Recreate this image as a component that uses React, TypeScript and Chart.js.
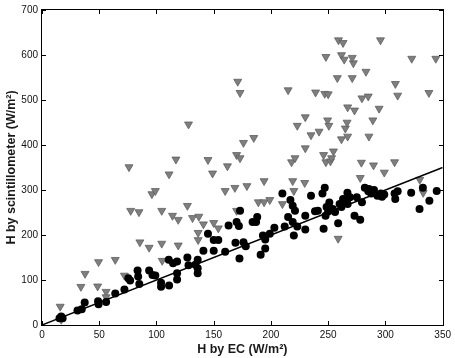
import React, { useEffect, useRef } from "react";
import { Chart, registerables } from "chart.js";

Chart.register(...registerables);

// Sensible heat flux from eddy covariance (x) vs. scintillometer (y), W/m²
const circleEC = [
  16.8, 18, 15.3, 31, 34.7, 37.3, 49, 49.4, 56, 64, 72, 75.4, 77, 83.5, 84, 85,
  93.6, 96.5, 99, 104, 104, 111, 110.7, 114.5, 118, 118, 118, 127, 128, 134, 136,
  136, 136, 141, 145, 150, 150, 154, 160, 163, 169, 170, 172, 173, 172.5, 176, 178,
  184, 188, 187, 191, 193, 195, 195, 199, 203, 210, 212, 215, 217, 219, 219, 220,
  221, 223, 230, 230, 235, 238.5, 241, 245, 246, 247, 247.7, 248.6, 250, 251, 254,
  256, 258.7, 260, 261.6, 263, 265, 266.8, 267, 269, 273, 275, 278, 279.5, 282, 285,
  285.6, 287.6, 290, 293, 296, 297, 299, 308, 308.6, 310.7, 322.5, 329.8, 332.7,
  338.4, 344.8,
];
const circleScint = [
  19, 15, 15, 32, 35, 50, 53, 46, 51, 70, 79, 104, 99, 121, 108, 91,
  121, 111, 110, 94, 85, 88, 145, 137, 141, 115, 101, 150, 133, 134, 145,
  115, 126, 165, 203, 189, 165, 189, 163, 221, 183, 229, 220, 254, 148, 184, 175,
  229, 240, 229, 156, 199, 170, 190, 203, 216, 292, 219, 240, 278, 265, 229, 199,
  254, 219, 212, 243, 287, 253, 254, 292, 214, 305, 243, 262, 252, 272, 258,
  251, 226, 269, 262, 280, 276, 294, 269, 284, 243, 284, 234, 273, 305, 297,
  302, 292, 300, 287, 292, 285, 290, 292, 280, 297, 294, 258, 305,
  276, 298,
];

const triEC = [
  15.9, 16.8, 34, 37.6, 48.6, 49.4, 56, 56, 64, 72, 76, 77.5, 84.7, 85.5, 93.6, 96,
  99, 104.6, 104.6, 105, 111, 114, 117, 119, 119, 127, 128, 131.5, 137, 136.4, 136.4,
  141, 145, 149, 150, 154, 160, 162, 168.5, 170, 171, 173, 173, 170, 176, 179, 185,
  189, 194, 194, 199, 210, 215, 218, 219, 220, 221, 223, 229.5, 230, 230, 235, 239,
  242, 246, 247, 248, 248, 250, 249.5, 250.6, 252, 253, 254.6, 258, 259, 258.7,
  261.6, 261.6, 263, 264, 265, 266.5, 267, 267, 271, 272, 273, 271, 278, 279, 279.5,
  283, 285, 285.6, 289, 289.6, 294.5, 295.7, 299, 308, 308.7, 310.7, 323, 330, 338,
  344, 333,
];
const triScint = [
  41, 12, 85, 114, 86, 140, 74, 62, 145, 110, 351, 254, 251, 184, 172, 291,
  298, 254, 181, 143, 335, 243, 368, 234, 177, 265, 446, 238, 241, 205, 189,
  224, 367, 337, 227, 215, 298, 353, 305, 378, 541, 516, 371, 254, 405, 309, 416,
  273, 320, 273, 278, 269, 522, 362, 320, 298, 371, 443, 316, 393, 462, 422, 517,
  430, 378, 514, 362, 596, 513, 455, 443, 364, 371, 386, 549, 633, 192,
  413, 600, 627, 590, 437, 450, 419, 484, 549, 582, 477, 594, 327, 361, 504,
  563, 508, 419, 455, 355, 481, 633, 339, 362, 536, 510, 592, 323, 516,
  592, 294,
];

// 1:1 reference line
const lineEC = [0, 350];
const lineScint = [0, 350];

const xTicks = [0, 50, 100, 150, 200, 250, 300, 350];
const yTicks = [0, 100, 200, 300, 400, 500, 600, 700];

const toPoints = (xs: number[], ys: number[]) => xs.map((x, i) => ({ x, y: ys[i] }));

// Plot box (solid rectangles) with inward tick marks on all four sides
const boxFrame = {
  id: "boxFrame",
  afterDraw(chart: any) {
    const ctx = chart.ctx;
    const a = chart.chartArea;
    const xs = chart.scales.x;
    const ys = chart.scales.y;
    const L = Math.round(a.left);
    const R = Math.round(a.right);
    const T = Math.round(a.top);
    const B = Math.round(a.bottom);
    const len = 4;
    ctx.save();
    ctx.fillStyle = "#000";
    ctx.fillRect(L - 1, T - 1, R - L + 2, 1);
    ctx.fillRect(L - 1, B, R - L + 2, 1);
    ctx.fillRect(L - 1, T - 1, 1, B - T + 2);
    ctx.fillRect(R, T - 1, 1, B - T + 2);
    for (const v of xTicks) {
      const px = Math.round(xs.getPixelForValue(v));
      ctx.fillRect(px, B - len, 1, len);
      ctx.fillRect(px, T, 1, len);
    }
    for (const v of yTicks) {
      const py = Math.round(ys.getPixelForValue(v));
      ctx.fillRect(L, py, len, 1);
      ctx.fillRect(R - len, py, len, 1);
    }
    ctx.restore();
  },
};

const tickFont = { family: "'Liberation Sans', Arial, sans-serif", size: 10 };
const titleFont = { family: "'Liberation Sans', Arial, sans-serif", size: 12.5, weight: "bold" as const };

export default function App() {
  const canvasRef = useRef<HTMLCanvasElement | null>(null);

  useEffect(() => {
    if (!canvasRef.current) return;
    const chart = new Chart(canvasRef.current, {
      type: "scatter",
      data: {
        datasets: [
          {
            type: "line",
            data: toPoints(lineEC, lineScint),
            borderColor: "#000",
            borderWidth: 1.5,
            pointRadius: 0,
            fill: false,
            order: 0,
          } as any,
          {
            data: toPoints(circleEC, circleScint),
            backgroundColor: "#000",
            borderColor: "#000",
            borderWidth: 0,
            pointRadius: 4,
            pointStyle: "circle",
            order: 1,
          },
          {
            data: toPoints(triEC, triScint),
            backgroundColor: "#7f7f7f",
            borderColor: "#5e5e5e",
            borderWidth: 0.8,
            pointRadius: 4.6,
            pointStyle: "triangle",
            rotation: 180,
            order: 2,
          },
        ],
      },
      options: {
        animation: false,
        responsive: true,
        maintainAspectRatio: false,
        layout: { padding: { top: 0, right: 0, left: 0, bottom: 0 } },
        plugins: {
          legend: { display: false },
          tooltip: { enabled: false },
        },
        scales: {
          x: {
            type: "linear",
            position: "bottom",
            min: 0,
            max: 350,
            grid: { display: false, drawTicks: false },
            border: { display: false },
            afterBuildTicks: (scale: any) => {
              scale.ticks = xTicks.map((value) => ({ value }));
            },
            afterFit: (scale: any) => {
              scale.height = 33;
            },
            ticks: {
              color: "#111",
              font: tickFont,
              padding: 4,
              maxRotation: 0,
            },
            title: {
              display: true,
              text: "H by EC (W/m²)",
              color: "#1a1a1a",
              font: titleFont,
              padding: { top: 0, bottom: 1 },
            },
          },
          y: {
            type: "linear",
            position: "left",
            min: 0,
            max: 700,
            grid: { display: false, drawTicks: false },
            border: { display: false },
            afterBuildTicks: (scale: any) => {
              scale.ticks = yTicks.map((value) => ({ value }));
            },
            afterFit: (scale: any) => {
              scale.width = 42;
            },
            ticks: {
              color: "#111",
              font: tickFont,
              padding: 4,
            },
            title: {
              display: true,
              text: "H by scintillometer (W/m²)",
              color: "#1a1a1a",
              font: titleFont,
              padding: { top: 4, bottom: 0 },
            },
          },
        },
      },
      plugins: [boxFrame],
    });
    return () => chart.destroy();
  }, []);

  return (
    <div style={{ position: "fixed", left: 0, top: 0, width: 455, height: 358, background: "#fff" }}>
      <canvas ref={canvasRef} />
    </div>
  );
}
